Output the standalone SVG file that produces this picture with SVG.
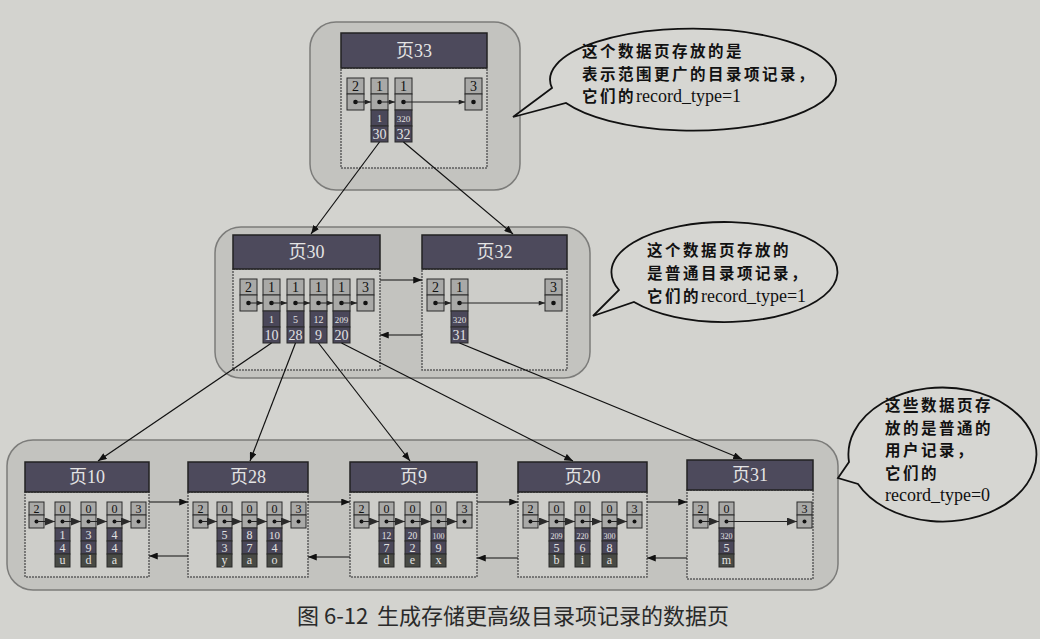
<svg xmlns="http://www.w3.org/2000/svg" width="1040" height="639" viewBox="0 0 1040 639">
<style>
.bg{fill:#d3d3cf}
.box{fill:#c3c3bf;stroke:#7c7c7a;stroke-width:1.5}
.body{fill:#cdcdc9;stroke:#5e5e5e;stroke-width:1.5;stroke-dasharray:2 1}
.hd{fill:#4d4a5c;stroke:#222;stroke-width:1.5}
.ht{font-family:"Liberation Serif","Noto Sans CJK SC",serif;font-size:18px;fill:#e4e4e4;text-anchor:middle}
.lc{fill:#a9a9a7;stroke:#2a2a2a;stroke-width:1}
.dc{fill:#4a4759;stroke:#2a2a2a;stroke-width:1}
.gc{fill:#484a45;stroke:#2a2a2a;stroke-width:1}
.t{font-family:"Liberation Serif",serif;font-size:14px;fill:#111;text-anchor:middle}
.ts{font-family:"Liberation Serif",serif;font-size:12px;fill:#111;text-anchor:middle}
.w{fill:#e2e2e2}
.dot{fill:#111}
.ln{stroke:#222;stroke-width:1;fill:none}
.cn{stroke:#111;stroke-width:1.2;fill:none}
.note{fill:#d6d6d2;stroke:#111;stroke-width:1.8}
.nt{font-family:"Liberation Serif","Noto Sans CJK SC",serif;font-size:18px;fill:#111}
.cj{font-family:"Noto Sans CJK SC",sans-serif;font-weight:600;font-size:15.5px;letter-spacing:2.5px}
.cap{font-family:"Noto Sans CJK SC",sans-serif;font-size:22px;fill:#2a2a2a}
</style>
<defs>
<marker id="ah" viewBox="0 0 10 8" refX="10" refY="4" markerWidth="9" markerHeight="7" markerUnits="userSpaceOnUse" orient="auto"><path d="M0,0 L10,4 L0,8 z" fill="#111"/></marker>
<marker id="as" viewBox="0 0 10 8" refX="10" refY="4" markerWidth="7" markerHeight="5" markerUnits="userSpaceOnUse" orient="auto"><path d="M0,0 L10,4 L0,8 z" fill="#222"/></marker>
<marker id="ab" viewBox="0 0 10 8" refX="10" refY="4" markerWidth="10" markerHeight="8" markerUnits="userSpaceOnUse" orient="auto"><path d="M0,0 L10,4 L0,8 z" fill="#2a2a2a"/></marker>
</defs>
<rect class="bg" x="0" y="0" width="1040" height="639"/>

<!-- containers -->
<g id="level2">
<rect class="box" x="310" y="22" width="210" height="168" rx="26"/>
</g>
<g id="level1">
<rect class="box" x="215" y="227" width="375" height="151" rx="26"/>
</g>
<g id="level0">
<rect class="box" x="7" y="440" width="831" height="150" rx="26"/>
</g>

<!-- page 33 -->
<g id="page33">
<rect class="body" x="341" y="68" width="146" height="100"/>
<rect class="hd" x="341" y="33" width="146" height="35"/>
<text class="ht" x="414" y="57">页33</text>
<rect class="lc" x="347" y="78" width="17" height="16"/><text class="t" x="355.5" y="91">2</text>
<rect class="lc" x="347" y="94" width="17" height="16"/><circle class="dot" cx="355.5" cy="102" r="2.3"/>
<rect class="lc" x="371" y="78" width="17" height="16"/><text class="t" x="379.5" y="91">1</text>
<rect class="lc" x="371" y="94" width="17" height="16"/><circle class="dot" cx="379.5" cy="102" r="2.3"/>
<rect class="dc" x="371" y="110" width="17" height="16"/><text class="t w" x="379.5" y="122" style="font-size:10px">1</text>
<rect class="dc" x="371" y="126" width="17" height="16"/><text class="t w" x="379.5" y="139">30</text>
<rect class="lc" x="395" y="78" width="17" height="16"/><text class="t" x="403.5" y="91">1</text>
<rect class="lc" x="395" y="94" width="17" height="16"/><circle class="dot" cx="403.5" cy="102" r="2.3"/>
<rect class="dc" x="395" y="110" width="17" height="16"/><text class="t w" x="403.5" y="122" style="font-size:9px">320</text>
<rect class="dc" x="395" y="126" width="17" height="16"/><text class="t w" x="403.5" y="139">32</text>
<rect class="lc" x="465" y="78" width="17" height="16"/><text class="t" x="473.5" y="91">3</text>
<rect class="lc" x="465" y="94" width="17" height="16"/><circle class="dot" cx="473.5" cy="102" r="2.3"/>
<line class="ln" x1="355.5" y1="102" x2="371" y2="102" marker-end="url(#as)"/>
<line class="ln" x1="379.5" y1="102" x2="395" y2="102" marker-end="url(#as)"/>
<line class="ln" x1="403.5" y1="102" x2="465" y2="102" marker-end="url(#as)"/>
</g>

<!-- page 30 -->
<g id="page30">
<rect class="body" x="233" y="269" width="147" height="101"/>
<rect class="hd" x="233" y="235" width="147" height="34"/>
<text class="ht" x="306.5" y="258">页30</text>
<rect class="lc" x="240" y="279" width="17" height="16"/><text class="t" x="248.5" y="292">2</text>
<rect class="lc" x="240" y="295" width="17" height="16"/><circle class="dot" cx="248.5" cy="303" r="2.3"/>
<rect class="lc" x="263" y="279" width="17" height="16"/><text class="t" x="271.5" y="292">1</text>
<rect class="lc" x="263" y="295" width="17" height="16"/><circle class="dot" cx="271.5" cy="303" r="2.3"/>
<rect class="dc" x="263" y="311" width="17" height="16"/><text class="t w" x="271.5" y="323" style="font-size:10px">1</text>
<rect class="dc" x="263" y="327" width="17" height="16"/><text class="t w" x="271.5" y="340">10</text>
<rect class="lc" x="287" y="279" width="17" height="16"/><text class="t" x="295.5" y="292">1</text>
<rect class="lc" x="287" y="295" width="17" height="16"/><circle class="dot" cx="295.5" cy="303" r="2.3"/>
<rect class="dc" x="287" y="311" width="17" height="16"/><text class="t w" x="295.5" y="323" style="font-size:10px">5</text>
<rect class="dc" x="287" y="327" width="17" height="16"/><text class="t w" x="295.5" y="340">28</text>
<rect class="lc" x="310" y="279" width="17" height="16"/><text class="t" x="318.5" y="292">1</text>
<rect class="lc" x="310" y="295" width="17" height="16"/><circle class="dot" cx="318.5" cy="303" r="2.3"/>
<rect class="dc" x="310" y="311" width="17" height="16"/><text class="t w" x="318.5" y="323" style="font-size:10px">12</text>
<rect class="dc" x="310" y="327" width="17" height="16"/><text class="t w" x="318.5" y="340">9</text>
<rect class="lc" x="333" y="279" width="17" height="16"/><text class="t" x="341.5" y="292">1</text>
<rect class="lc" x="333" y="295" width="17" height="16"/><circle class="dot" cx="341.5" cy="303" r="2.3"/>
<rect class="dc" x="333" y="311" width="17" height="16"/><text class="t w" x="341.5" y="323" style="font-size:9px">209</text>
<rect class="dc" x="333" y="327" width="17" height="16"/><text class="t w" x="341.5" y="340">20</text>
<rect class="lc" x="357" y="279" width="17" height="16"/><text class="t" x="365.5" y="292">3</text>
<rect class="lc" x="357" y="295" width="17" height="16"/><circle class="dot" cx="365.5" cy="303" r="2.3"/>
<line class="ln" x1="248.5" y1="303" x2="263" y2="303" marker-end="url(#as)"/>
<line class="ln" x1="271.5" y1="303" x2="287" y2="303" marker-end="url(#as)"/>
<line class="ln" x1="295.5" y1="303" x2="310" y2="303" marker-end="url(#as)"/>
<line class="ln" x1="318.5" y1="303" x2="333" y2="303" marker-end="url(#as)"/>
<line class="ln" x1="341.5" y1="303" x2="357" y2="303" marker-end="url(#as)"/>
</g>

<!-- page 32 -->
<g id="page32">
<rect class="body" x="422" y="269" width="145" height="101"/>
<rect class="hd" x="422" y="235" width="145" height="34"/>
<text class="ht" x="494.5" y="258">页32</text>
<rect class="lc" x="427" y="279" width="17" height="16"/><text class="t" x="435.5" y="292">2</text>
<rect class="lc" x="427" y="295" width="17" height="16"/><circle class="dot" cx="435.5" cy="303" r="2.3"/>
<rect class="lc" x="451" y="279" width="17" height="16"/><text class="t" x="459.5" y="292">1</text>
<rect class="lc" x="451" y="295" width="17" height="16"/><circle class="dot" cx="459.5" cy="303" r="2.3"/>
<rect class="dc" x="451" y="311" width="17" height="16"/><text class="t w" x="459.5" y="323" style="font-size:9px">320</text>
<rect class="dc" x="451" y="327" width="17" height="16"/><text class="t w" x="459.5" y="340">31</text>
<rect class="lc" x="545" y="279" width="17" height="16"/><text class="t" x="553.5" y="292">3</text>
<rect class="lc" x="545" y="295" width="17" height="16"/><circle class="dot" cx="553.5" cy="303" r="2.3"/>
<line class="ln" x1="435.5" y1="303" x2="451" y2="303" marker-end="url(#as)"/>
<line class="ln" x1="459.5" y1="303" x2="545" y2="303" marker-end="url(#as)"/>
</g>

<!-- page 10 -->
<g id="page10">
<rect class="body" x="25" y="492" width="124" height="85"/>
<rect class="hd" x="25" y="462" width="124" height="30"/>
<text class="ht" x="87" y="483">页10</text>
<rect class="lc" x="29" y="502" width="15" height="13"/><text class="ts" x="36.5" y="513">2</text>
<rect class="lc" x="29" y="515" width="15" height="13"/><circle class="dot" cx="36.5" cy="521.5" r="2"/>
<rect class="lc" x="55" y="502" width="15" height="13"/><text class="ts" x="62.5" y="513">0</text>
<rect class="lc" x="55" y="515" width="15" height="13"/><circle class="dot" cx="62.5" cy="521.5" r="2"/>
<rect class="dc" x="55" y="528" width="15" height="13"/><text class="ts w" x="62.5" y="539">1</text>
<rect class="dc" x="55" y="541" width="15" height="13"/><text class="ts w" x="62.5" y="552">4</text>
<rect class="gc" x="55" y="554" width="15" height="13"/><text class="ts w" x="62.5" y="564">u</text>
<rect class="lc" x="81" y="502" width="15" height="13"/><text class="ts" x="88.5" y="513">0</text>
<rect class="lc" x="81" y="515" width="15" height="13"/><circle class="dot" cx="88.5" cy="521.5" r="2"/>
<rect class="dc" x="81" y="528" width="15" height="13"/><text class="ts w" x="88.5" y="539">3</text>
<rect class="dc" x="81" y="541" width="15" height="13"/><text class="ts w" x="88.5" y="552">9</text>
<rect class="gc" x="81" y="554" width="15" height="13"/><text class="ts w" x="88.5" y="564">d</text>
<rect class="lc" x="107" y="502" width="15" height="13"/><text class="ts" x="114.5" y="513">0</text>
<rect class="lc" x="107" y="515" width="15" height="13"/><circle class="dot" cx="114.5" cy="521.5" r="2"/>
<rect class="dc" x="107" y="528" width="15" height="13"/><text class="ts w" x="114.5" y="539">4</text>
<rect class="dc" x="107" y="541" width="15" height="13"/><text class="ts w" x="114.5" y="552">4</text>
<rect class="gc" x="107" y="554" width="15" height="13"/><text class="ts w" x="114.5" y="564">a</text>
<rect class="lc" x="131" y="502" width="15" height="13"/><text class="ts" x="138.5" y="513">3</text>
<rect class="lc" x="131" y="515" width="15" height="13"/><circle class="dot" cx="138.5" cy="521.5" r="2"/>
<line class="ln" x1="36.5" y1="521.5" x2="55" y2="521.5" marker-end="url(#ab)"/>
<line class="ln" x1="62.5" y1="521.5" x2="81" y2="521.5" marker-end="url(#ab)"/>
<line class="ln" x1="88.5" y1="521.5" x2="107" y2="521.5" marker-end="url(#ab)"/>
<line class="ln" x1="114.5" y1="521.5" x2="131" y2="521.5" marker-end="url(#ab)"/>
</g>

<!-- page 28 -->
<g id="page28">
<rect class="body" x="188" y="492" width="120" height="85"/>
<rect class="hd" x="188" y="462" width="120" height="30"/>
<text class="ht" x="248" y="483">页28</text>
<rect class="lc" x="193" y="502" width="15" height="13"/><text class="ts" x="200.5" y="513">2</text>
<rect class="lc" x="193" y="515" width="15" height="13"/><circle class="dot" cx="200.5" cy="521.5" r="2"/>
<rect class="lc" x="217" y="502" width="15" height="13"/><text class="ts" x="224.5" y="513">0</text>
<rect class="lc" x="217" y="515" width="15" height="13"/><circle class="dot" cx="224.5" cy="521.5" r="2"/>
<rect class="dc" x="217" y="528" width="15" height="13"/><text class="ts w" x="224.5" y="539">5</text>
<rect class="dc" x="217" y="541" width="15" height="13"/><text class="ts w" x="224.5" y="552">3</text>
<rect class="gc" x="217" y="554" width="15" height="13"/><text class="ts w" x="224.5" y="564">y</text>
<rect class="lc" x="242" y="502" width="15" height="13"/><text class="ts" x="249.5" y="513">0</text>
<rect class="lc" x="242" y="515" width="15" height="13"/><circle class="dot" cx="249.5" cy="521.5" r="2"/>
<rect class="dc" x="242" y="528" width="15" height="13"/><text class="ts w" x="249.5" y="539">8</text>
<rect class="dc" x="242" y="541" width="15" height="13"/><text class="ts w" x="249.5" y="552">7</text>
<rect class="gc" x="242" y="554" width="15" height="13"/><text class="ts w" x="249.5" y="564">a</text>
<rect class="lc" x="267" y="502" width="15" height="13"/><text class="ts" x="274.5" y="513">0</text>
<rect class="lc" x="267" y="515" width="15" height="13"/><circle class="dot" cx="274.5" cy="521.5" r="2"/>
<rect class="dc" x="267" y="528" width="15" height="13"/><text class="ts w" x="274.5" y="539" style="font-size:11px">10</text>
<rect class="dc" x="267" y="541" width="15" height="13"/><text class="ts w" x="274.5" y="552">4</text>
<rect class="gc" x="267" y="554" width="15" height="13"/><text class="ts w" x="274.5" y="564">o</text>
<rect class="lc" x="291" y="502" width="15" height="13"/><text class="ts" x="298.5" y="513">3</text>
<rect class="lc" x="291" y="515" width="15" height="13"/><circle class="dot" cx="298.5" cy="521.5" r="2"/>
<line class="ln" x1="200.5" y1="521.5" x2="217" y2="521.5" marker-end="url(#ab)"/>
<line class="ln" x1="224.5" y1="521.5" x2="242" y2="521.5" marker-end="url(#ab)"/>
<line class="ln" x1="249.5" y1="521.5" x2="267" y2="521.5" marker-end="url(#ab)"/>
<line class="ln" x1="274.5" y1="521.5" x2="291" y2="521.5" marker-end="url(#ab)"/>
</g>

<!-- page 9 -->
<g id="page9">
<rect class="body" x="350" y="492" width="127" height="85"/>
<rect class="hd" x="350" y="462" width="127" height="30"/>
<text class="ht" x="413.5" y="483">页9</text>
<rect class="lc" x="354" y="502" width="15" height="13"/><text class="ts" x="361.5" y="513">2</text>
<rect class="lc" x="354" y="515" width="15" height="13"/><circle class="dot" cx="361.5" cy="521.5" r="2"/>
<rect class="lc" x="379" y="502" width="15" height="13"/><text class="ts" x="386.5" y="513">0</text>
<rect class="lc" x="379" y="515" width="15" height="13"/><circle class="dot" cx="386.5" cy="521.5" r="2"/>
<rect class="dc" x="379" y="528" width="15" height="13"/><text class="ts w" x="386.5" y="538.5" style="font-size:9.5px">12</text>
<rect class="dc" x="379" y="541" width="15" height="13"/><text class="ts w" x="386.5" y="552">7</text>
<rect class="gc" x="379" y="554" width="15" height="13"/><text class="ts w" x="386.5" y="564">d</text>
<rect class="lc" x="405" y="502" width="15" height="13"/><text class="ts" x="412.5" y="513">0</text>
<rect class="lc" x="405" y="515" width="15" height="13"/><circle class="dot" cx="412.5" cy="521.5" r="2"/>
<rect class="dc" x="405" y="528" width="15" height="13"/><text class="ts w" x="412.5" y="538.5" style="font-size:9.5px">20</text>
<rect class="dc" x="405" y="541" width="15" height="13"/><text class="ts w" x="412.5" y="552">2</text>
<rect class="gc" x="405" y="554" width="15" height="13"/><text class="ts w" x="412.5" y="564">e</text>
<rect class="lc" x="431" y="502" width="15" height="13"/><text class="ts" x="438.5" y="513">0</text>
<rect class="lc" x="431" y="515" width="15" height="13"/><circle class="dot" cx="438.5" cy="521.5" r="2"/>
<rect class="dc" x="431" y="528" width="15" height="13"/><text class="ts w" x="438.5" y="538.5" style="font-size:8px">100</text>
<rect class="dc" x="431" y="541" width="15" height="13"/><text class="ts w" x="438.5" y="552">9</text>
<rect class="gc" x="431" y="554" width="15" height="13"/><text class="ts w" x="438.5" y="564">x</text>
<rect class="lc" x="457" y="502" width="15" height="13"/><text class="ts" x="464.5" y="513">3</text>
<rect class="lc" x="457" y="515" width="15" height="13"/><circle class="dot" cx="464.5" cy="521.5" r="2"/>
<line class="ln" x1="361.5" y1="521.5" x2="379" y2="521.5" marker-end="url(#ab)"/>
<line class="ln" x1="386.5" y1="521.5" x2="405" y2="521.5" marker-end="url(#ab)"/>
<line class="ln" x1="412.5" y1="521.5" x2="431" y2="521.5" marker-end="url(#ab)"/>
<line class="ln" x1="438.5" y1="521.5" x2="457" y2="521.5" marker-end="url(#ab)"/>
</g>

<!-- page 20 -->
<g id="page20">
<rect class="body" x="518" y="492" width="129" height="85"/>
<rect class="hd" x="518" y="462" width="129" height="30"/>
<text class="ht" x="582.5" y="483">页20</text>
<rect class="lc" x="523" y="502" width="15" height="13"/><text class="ts" x="530.5" y="513">2</text>
<rect class="lc" x="523" y="515" width="15" height="13"/><circle class="dot" cx="530.5" cy="521.5" r="2"/>
<rect class="lc" x="549" y="502" width="15" height="13"/><text class="ts" x="556.5" y="513">0</text>
<rect class="lc" x="549" y="515" width="15" height="13"/><circle class="dot" cx="556.5" cy="521.5" r="2"/>
<rect class="dc" x="549" y="528" width="15" height="13"/><text class="ts w" x="556.5" y="538.5" style="font-size:8px">209</text>
<rect class="dc" x="549" y="541" width="15" height="13"/><text class="ts w" x="556.5" y="552">5</text>
<rect class="gc" x="549" y="554" width="15" height="13"/><text class="ts w" x="556.5" y="564">b</text>
<rect class="lc" x="575" y="502" width="15" height="13"/><text class="ts" x="582.5" y="513">0</text>
<rect class="lc" x="575" y="515" width="15" height="13"/><circle class="dot" cx="582.5" cy="521.5" r="2"/>
<rect class="dc" x="575" y="528" width="15" height="13"/><text class="ts w" x="582.5" y="538.5" style="font-size:8px">220</text>
<rect class="dc" x="575" y="541" width="15" height="13"/><text class="ts w" x="582.5" y="552">6</text>
<rect class="gc" x="575" y="554" width="15" height="13"/><text class="ts w" x="582.5" y="564">i</text>
<rect class="lc" x="602" y="502" width="15" height="13"/><text class="ts" x="609.5" y="513">0</text>
<rect class="lc" x="602" y="515" width="15" height="13"/><circle class="dot" cx="609.5" cy="521.5" r="2"/>
<rect class="dc" x="602" y="528" width="15" height="13"/><text class="ts w" x="609.5" y="538.5" style="font-size:8px">300</text>
<rect class="dc" x="602" y="541" width="15" height="13"/><text class="ts w" x="609.5" y="552">8</text>
<rect class="gc" x="602" y="554" width="15" height="13"/><text class="ts w" x="609.5" y="564">a</text>
<rect class="lc" x="627" y="502" width="15" height="13"/><text class="ts" x="634.5" y="513">3</text>
<rect class="lc" x="627" y="515" width="15" height="13"/><circle class="dot" cx="634.5" cy="521.5" r="2"/>
<line class="ln" x1="530.5" y1="521.5" x2="549" y2="521.5" marker-end="url(#ab)"/>
<line class="ln" x1="556.5" y1="521.5" x2="575" y2="521.5" marker-end="url(#ab)"/>
<line class="ln" x1="582.5" y1="521.5" x2="602" y2="521.5" marker-end="url(#ab)"/>
<line class="ln" x1="609.5" y1="521.5" x2="627" y2="521.5" marker-end="url(#ab)"/>
</g>

<!-- page 31 -->
<g id="page31">
<rect class="body" x="687" y="490" width="126" height="89"/>
<rect class="hd" x="687" y="460" width="126" height="30"/>
<text class="ht" x="750" y="481">页31</text>
<rect class="lc" x="693" y="502" width="15" height="13"/><text class="ts" x="700.5" y="513">2</text>
<rect class="lc" x="693" y="515" width="15" height="13"/><circle class="dot" cx="700.5" cy="521.5" r="2"/>
<rect class="lc" x="719" y="502" width="15" height="13"/><text class="ts" x="726.5" y="513">0</text>
<rect class="lc" x="719" y="515" width="15" height="13"/><circle class="dot" cx="726.5" cy="521.5" r="2"/>
<rect class="dc" x="719" y="528" width="15" height="13"/><text class="ts w" x="726.5" y="538.5" style="font-size:8px">320</text>
<rect class="dc" x="719" y="541" width="15" height="13"/><text class="ts w" x="726.5" y="552">5</text>
<rect class="gc" x="719" y="554" width="15" height="13"/><text class="ts w" x="726.5" y="564">m</text>
<rect class="lc" x="797" y="502" width="15" height="13"/><text class="ts" x="804.5" y="513">3</text>
<rect class="lc" x="797" y="515" width="15" height="13"/><circle class="dot" cx="804.5" cy="521.5" r="2"/>
<line class="ln" x1="700.5" y1="521.5" x2="719" y2="521.5" marker-end="url(#ab)"/>
<line class="ln" x1="726.5" y1="521.5" x2="797" y2="521.5" marker-end="url(#ab)"/>
</g>

<!-- connectors -->
<g id="connectors">
<line class="cn" x1="379.5" y1="142" x2="311" y2="234" marker-end="url(#ah)"/>
<line class="cn" x1="403.5" y1="142" x2="513" y2="234" marker-end="url(#ah)"/>
<line class="cn" x1="380" y1="280" x2="422" y2="280" marker-end="url(#ah)"/>
<line class="cn" x1="422" y1="335" x2="380" y2="335" marker-end="url(#ah)"/>
<line class="cn" x1="271.5" y1="343" x2="98" y2="461" marker-end="url(#ah)"/>
<line class="cn" x1="295.5" y1="343" x2="250" y2="461" marker-end="url(#ah)"/>
<line class="cn" x1="318.5" y1="343" x2="410" y2="461" marker-end="url(#ah)"/>
<line class="cn" x1="341.5" y1="343" x2="573" y2="461" marker-end="url(#ah)"/>
<line class="cn" x1="459.5" y1="343" x2="742" y2="459" marker-end="url(#ah)"/>
<line class="cn" x1="149" y1="502" x2="188" y2="502" marker-end="url(#ah)"/>
<line class="cn" x1="188" y1="556" x2="149" y2="556" marker-end="url(#ah)"/>
<line class="cn" x1="308" y1="502" x2="350" y2="502" marker-end="url(#ah)"/>
<line class="cn" x1="350" y1="557" x2="308" y2="557" marker-end="url(#ah)"/>
<line class="cn" x1="477" y1="502" x2="518" y2="502" marker-end="url(#ah)"/>
<line class="cn" x1="518" y1="558" x2="477" y2="558" marker-end="url(#ah)"/>
<line class="cn" x1="647" y1="502" x2="687" y2="502" marker-end="url(#ah)"/>
<line class="cn" x1="687" y1="558" x2="647" y2="558" marker-end="url(#ah)"/>
</g>

<!-- callouts -->
<g id="note1">
<path class="note" d="M513 117 L552 88 A143 51 0 1 1 566 103 Z"/>
<text class="nt" x="582" y="57"><tspan class="cj">这个数据页存放的是</tspan></text>
<text class="nt" x="582" y="79.5"><tspan class="cj">表示范围更广的目录项记录，</tspan></text>
<text class="nt" x="582" y="102"><tspan class="cj">它们的</tspan>record_type=1</text>
</g>
<g id="note2">
<path class="note" d="M593 316 L619 290 A113 50 0 1 1 634 302 Z"/>
<text class="nt" x="647" y="256"><tspan class="cj">这个数据页存放的</tspan></text>
<text class="nt" x="647" y="279"><tspan class="cj">是普通目录项记录，</tspan></text>
<text class="nt" x="647" y="302"><tspan class="cj">它们的</tspan>record_type=1</text>
</g>
<g id="note3">
<path class="note" d="M838 478 L849 462 A94 67 0 1 1 858 484 Z"/>
<text class="nt" x="885" y="411"><tspan class="cj">这些数据页存</tspan></text>
<text class="nt" x="885" y="433.5"><tspan class="cj">放的是普通的</tspan></text>
<text class="nt" x="885" y="456"><tspan class="cj">用户记录，</tspan></text>
<text class="nt" x="885" y="478.5"><tspan class="cj">它们的</tspan></text>
<text class="nt" x="885" y="501">record_type=0</text>
</g>

<g id="caption">
<text class="cap" x="297" y="624">图 6-12</text>
<text class="cap" x="377" y="624">生成存储更高级目录项记录的数据页</text>
</g>
</svg>
